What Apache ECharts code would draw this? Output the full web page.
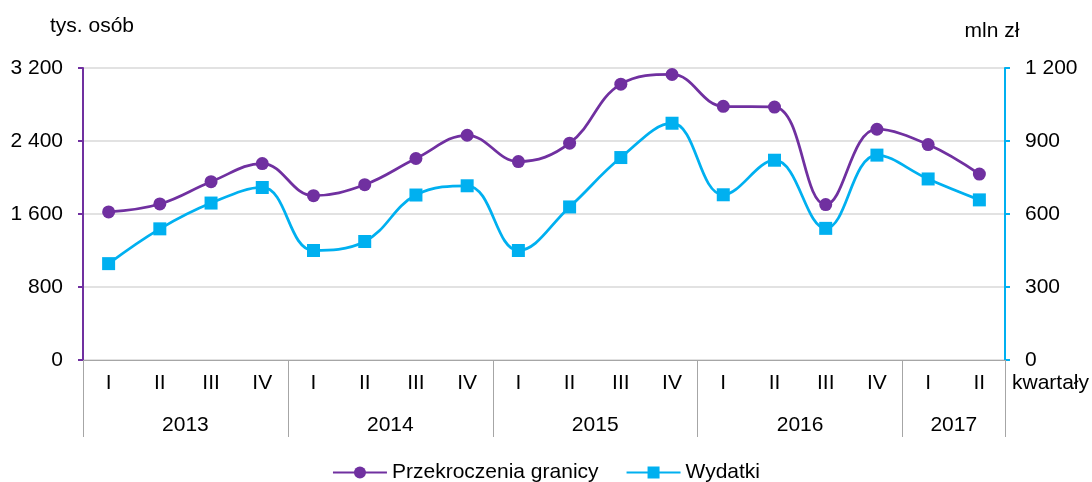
<!DOCTYPE html>
<html><head><meta charset="utf-8">
<script src="https://cdn.jsdelivr.net/npm/echarts@6/dist/echarts.min.js"></script>
<style>html,body{margin:0;padding:0;background:#fff}#c{width:1092px;height:482px}</style>
</head><body><div id="c"></div>
<script>
const quarters = ['I','II','III','IV','I','II','III','IV','I','II','III','IV','I','II','III','IV','I','II'];
const years = ['2013','2014','2015','2016','2017'];
const yearCounts = [4,4,4,4,2];
const przekroczenia = [1623,1710,1954,2153,1801,1921,2208,2463,2175,2376,3023,3129,2780,2772,1703,2529,2361,2037];
const wydatki = [396,539,645,709,450,487,678,716,450,629,832,973,679,821,541,842,744,658];
const leftTicks = [0,800,1600,2400,3200];
const rightTicks = [0,300,600,900,1200];

const FONT = 'Liberation Sans, Arial, sans-serif';
const FS = 21;
const PURPLE = '#7030A0', BLUE = '#00B0F0', GRAY = '#A6A6A6';
const fmt = v => String(v).replace(/\B(?=(\d{3})+(?!\d))/g, ' ');

const bounds = [0]; yearCounts.forEach(c => bounds.push(bounds[bounds.length-1] + c));
const mids = years.map((y,i) => (bounds[i] + bounds[i+1]) / 2);
const midMap = {}; mids.forEach((m,i) => midMap[m] = years[i]);

const chart = echarts.init(document.getElementById('c'));
chart.setOption({
  animation: false,
  textStyle: {fontFamily: FONT, color: '#000'},
  grid: {left: 83, right: 87, top: 68, bottom: 122},
  legend: {
    bottom: -6, left: 'center', itemWidth: 54, itemHeight: 15, itemGap: 27,
    textStyle: {fontFamily: FONT, fontSize: FS, color: '#000'},
    data: ['Przekroczenia granicy', 'Wydatki']
  },
  xAxis: [{
    type: 'category', data: quarters, position: 'bottom', boundaryGap: true,
    axisLine: {lineStyle: {color: GRAY, width: 1}},
    axisTick: {interval: 0, length: 40, lineStyle: {color: GRAY}},
    axisLabel: {interval: 0, margin: 13, fontSize: FS, color: '#000', fontFamily: FONT},
    name: 'kwartały', nameLocation: 'end', nameGap: 7,
    nameTextStyle: {fontSize: FS, color: '#000', fontFamily: FONT, verticalAlign: 'top', align: 'left', padding: [13,0,0,0]}
  }, {
    type: 'value', min: 0, max: bounds[bounds.length-1], position: 'bottom',
    axisLine: {show: false},
    splitLine: {show: false},
    axisTick: {show: true, length: 77, customValues: bounds, lineStyle: {color: GRAY}},
    axisLabel: {show: true, customValues: mids, margin: 55, fontSize: FS, color: '#000', fontFamily: FONT,
      formatter: v => midMap[v] || ''}
  }],
  yAxis: [{
    type: 'value', min: 0, max: 3200, interval: 800, position: 'left',
    axisLine: {show: true, lineStyle: {color: PURPLE, width: 2}},
    axisTick: {show: true, length: 5, lineStyle: {color: PURPLE, width: 2}},
    axisLabel: {margin: 20, fontSize: FS, color: '#000', fontFamily: FONT, formatter: v => fmt(v)},
    splitLine: {show: true, lineStyle: {color: '#D9D9D9', width: 1.5}},
    name: 'tys. osób', nameLocation: 'end', nameGap: 42,
    nameTextStyle: {fontSize: FS, color: '#000', fontFamily: FONT, verticalAlign: 'middle', align: 'center', padding: [0,0,0,18]}
  }, {
    type: 'value', min: 0, max: 1200, interval: 300, position: 'right',
    axisLine: {show: true, lineStyle: {color: BLUE, width: 2}},
    axisTick: {show: true, length: 5, lineStyle: {color: BLUE, width: 2}},
    axisLabel: {margin: 20, fontSize: FS, color: '#000', fontFamily: FONT, formatter: v => fmt(v)},
    splitLine: {show: false},
    name: 'mln zł', nameLocation: 'end', nameGap: 37,
    nameTextStyle: {fontSize: FS, color: '#000', fontFamily: FONT, verticalAlign: 'middle', align: 'center', padding: [0,26,0,0]}
  }],
  series: [{
    name: 'Przekroczenia granicy', type: 'line', xAxisIndex: 0, yAxisIndex: 0,
    data: przekroczenia, smooth: 0.4, symbol: 'circle', symbolSize: 13,
    lineStyle: {color: PURPLE, width: 2.75}, itemStyle: {color: PURPLE}
  }, {
    name: 'Wydatki', type: 'line', xAxisIndex: 0, yAxisIndex: 1,
    data: wydatki, smooth: 0.4, symbol: 'rect', symbolSize: 13,
    lineStyle: {color: BLUE, width: 2.75}, itemStyle: {color: BLUE}
  }]
});
</script></body></html>
